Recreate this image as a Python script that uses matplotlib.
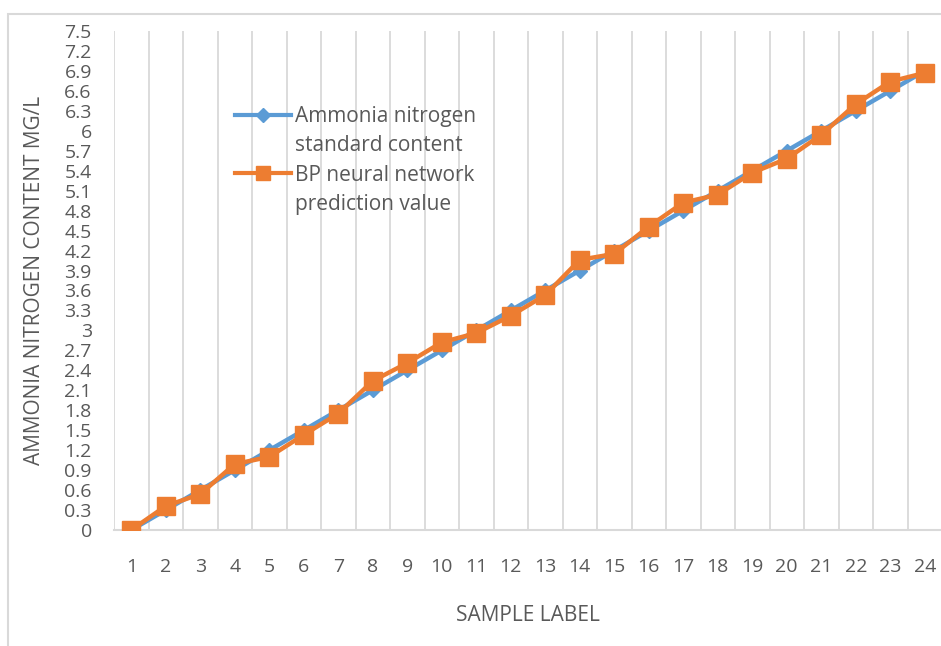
import matplotlib.pyplot as plt
from matplotlib.lines import Line2D
from matplotlib.patches import Rectangle
from matplotlib.ticker import FuncFormatter, MultipleLocator

# sample labels 1..24
samples = list(range(1, 25))
standard = [0, 0.3, 0.6, 0.9, 1.2, 1.5, 1.8, 2.1, 2.4, 2.7, 3.0, 3.3,
            3.6, 3.9, 4.2, 4.5, 4.8, 5.1, 5.4, 5.7, 6.0, 6.3, 6.6, 6.9]
predicted = [0, 0.36, 0.54, 0.99, 1.10, 1.43, 1.75, 2.24, 2.51, 2.82, 2.96, 3.22,
             3.53, 4.06, 4.15, 4.56, 4.92, 5.04, 5.37, 5.58, 5.94, 6.40, 6.74, 6.87]
yticks = [round(0.3 * i, 1) for i in range(26)]

BLUE = '#5B9BD5'
ORANGE = '#ED7D31'
GRID = '#D9D9D9'
TEXT = '#595959'

plt.rcParams['font.family'] = ['Open Sans', 'DejaVu Sans']

fig = plt.figure(figsize=(9.41, 6.46), dpi=100)
ax = fig.add_axes([114 / 941, 1 - 530 / 646, 828 / 941, 499 / 646])

# chart border (runs off the right and bottom edges like the original)
fig.patches.append(Rectangle((8 / 941, -0.05), 1.0, 1 - 14 / 646 + 0.05,
                             transform=fig.transFigure, fill=False,
                             edgecolor=GRID, linewidth=1.5))

ax.plot(samples, standard, color=BLUE, lw=3.2, marker='D', ms=7,
        label='Ammonia nitrogen standard content', zorder=3)
ax.plot(samples, predicted, color=ORANGE, lw=3.2, marker='s', ms=13,
        label='BP neural network prediction value', zorder=4)

ax.set_xlim(0.5, 24.5)
ax.set_ylim(0, 7.5)
ax.set_xticks(samples)
ax.xaxis.set_minor_locator(MultipleLocator(1, offset=0.5))
ax.set_yticks(yticks)
ax.yaxis.set_major_formatter(FuncFormatter(lambda v, p: f'{v:g}'))
ax.grid(True, which='minor', axis='x', color=GRID, lw=1.3)
ax.set_axisbelow(True)

for s in ['top', 'right', 'left']:
    ax.spines[s].set_visible(False)
ax.spines['bottom'].set_color(GRID)
ax.spines['bottom'].set_linewidth(1.5)
ax.tick_params(which='both', length=0)
ax.tick_params(axis='x', pad=20, labelsize=14, labelcolor=TEXT)
ax.tick_params(axis='y', pad=16, labelsize=14, labelcolor=TEXT)

ax.set_xlabel('SAMPLE LABEL', fontsize=15, color=TEXT, labelpad=21)
ax.set_ylabel('AMMONIA NITROGEN CONTENT MG/L', fontsize=15, color=TEXT, labelpad=14)

# legend: handle sits on the first line of each wrapped label
handles = [Line2D([], [], color=BLUE, lw=3, marker='D', ms=7),
           Line2D([], [], color='none'),
           Line2D([], [], color=ORANGE, lw=3, marker='s', ms=10),
           Line2D([], [], color='none')]
labels = ['Ammonia nitrogen', 'standard content',
          'BP neural network', 'prediction value']
ax.legend(handles, labels, loc='upper left', bbox_to_anchor=(0.146, 0.85),
          frameon=False, fontsize=15, labelcolor=TEXT, handlelength=2.7,
          handletextpad=0.2, labelspacing=0.4, borderpad=0, borderaxespad=0)

fig.savefig('out.png', dpi=100)
